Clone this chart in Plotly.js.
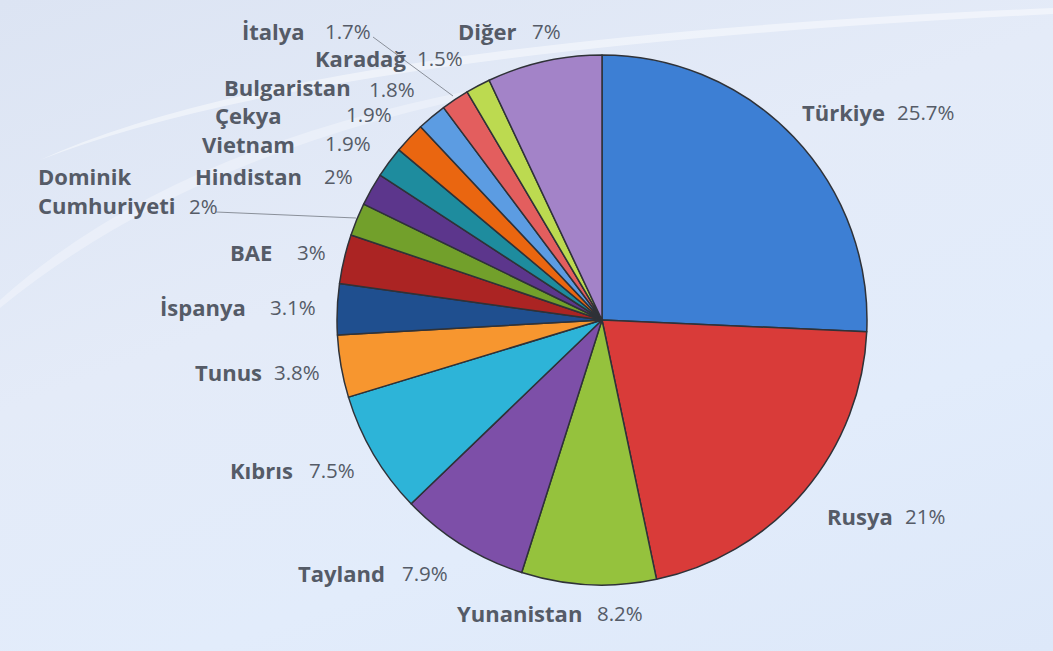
<!DOCTYPE html>
<html>
<head>
<meta charset="utf-8">
<script src="https://cdn.plot.ly/plotly-3.0.1.min.js"></script>
<style>
html,body{margin:0;padding:0;}
body{width:1053px;height:651px;overflow:hidden;background:linear-gradient(160deg,#dce4f3 0%,#e4ebf8 40%,#e2ecfb 70%,#dde8f9 100%);}
#chart{width:1053px;height:651px;}
</style>
</head>
<body>
<div id="chart"></div>
<script>
// Data (clockwise from 12 o'clock)
const countries = ["Türkiye","Rusya","Yunanistan","Tayland","Kıbrıs","Tunus","İspanya","BAE","Dominik<br>Cumhuriyeti","Hindistan","Vietnam","Çekya","Bulgaristan","İtalya","Karadağ","Diğer"];
const shares = [25.7,21,8.2,7.9,7.5,3.8,3.1,3,2,2,1.9,1.9,1.8,1.7,1.5,7];
const colors = ["#3d7fd4","#d93b39","#95c23d","#7d4fa8","#2db4d8","#f7962f","#1f4f8f","#ab2423","#72a02b","#5c368c","#1e8c9e","#ea6610","#5c9ce2","#e35e5e","#bcda50","#a383c8"];

// Label placement (pixel positions in the 1053x651 frame): [nameX, nameY, pctX, pctY]
const labelPos = [
  [800,112,895,112],
  [825,516,903,516],
  [455,613,595,613],
  [296,573,400,573],
  [228,470,307,470],
  [193,372,272,372],
  [158,307,268,307],
  [228,252,295,252],
  [36,190,187,206],
  [193,176,322,176],
  [200,144,323,143],
  [213,115,344,114],
  [222,87,367,89],
  [240,31,323,31],
  [313,58,415,58],
  [456,31,530,31]
];

const W = 1053, H = 651;
const px = x => x / W;
const py = y => 1 - y / H;

const annotations = [];
countries.forEach((c, i) => {
  const p = labelPos[i];
  annotations.push({
    x: px(p[0]), y: py(p[1]), xref: 'paper', yref: 'paper',
    xanchor: 'left', yanchor: 'middle', align: 'left', showarrow: false,
    text: '<b>' + c + '</b>',
    font: {family: 'Open Sans, sans-serif', size: 22, color: '#555b67'}
  });
  annotations.push({
    x: px(p[2]), y: py(p[3]), xref: 'paper', yref: 'paper',
    xanchor: 'left', yanchor: 'middle', showarrow: false,
    text: shares[i] + '%',
    font: {family: 'Open Sans, sans-serif', size: 20.5, color: '#555b67'}
  });
});

const shapes = [
  // background swoosh
  {type: 'path', xref: 'paper', yref: 'paper', layer: 'below',
   path: `M ${px(40)} ${py(160)} Q ${px(300)} ${py(40)} ${px(1053)} ${py(8)} L ${px(1053)} ${py(14)} Q ${px(320)} ${py(50)} ${px(40)} ${py(160)} Z`,
   fillcolor: 'rgba(255,255,255,0.45)', line: {width: 0}},
  {type: 'path', xref: 'paper', yref: 'paper', layer: 'below',
   path: `M ${px(0)} ${py(300)} Q ${px(200)} ${py(120)} ${px(600)} ${py(70)} L ${px(600)} ${py(75)} Q ${px(220)} ${py(128)} ${px(0)} ${py(308)} Z`,
   fillcolor: 'rgba(255,255,255,0.3)', line: {width: 0}},
  // leader lines
  {type: 'line', xref: 'paper', yref: 'paper', x0: px(373), y0: py(37), x1: px(453), y1: py(96), line: {color: '#8a909a', width: 1}},
  {type: 'line', xref: 'paper', yref: 'paper', x0: px(216), y0: py(212), x1: px(356), y1: py(218), line: {color: '#8a909a', width: 1}}
];

const trace = {
  type: 'pie',
  labels: countries,
  values: shares,
  sort: false,
  direction: 'clockwise',
  rotation: 0,
  textinfo: 'none',
  hoverinfo: 'label+percent',
  marker: {colors: colors, line: {color: '#2f3238', width: 1.5}},
  domain: {x: [px(337), px(867)], y: [py(585), py(55)]},
  showlegend: false
};

const layout = {
  width: W, height: H,
  margin: {l: 0, r: 0, t: 0, b: 0},
  paper_bgcolor: 'rgba(0,0,0,0)',
  plot_bgcolor: 'rgba(0,0,0,0)',
  showlegend: false,
  annotations: annotations,
  shapes: shapes
};

Plotly.newPlot('chart', [trace], layout, {displayModeBar: false, staticPlot: true});
</script>
</body>
</html>
